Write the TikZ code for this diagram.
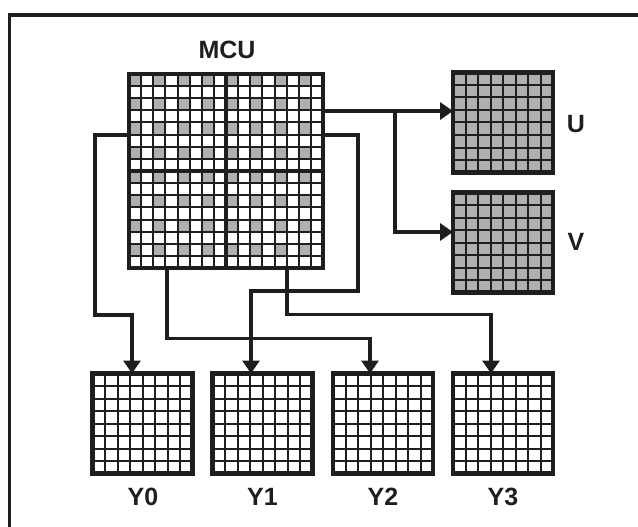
\documentclass[tikz,border=0pt]{standalone}
\usepackage{fontspec}
\setmainfont{Liberation Sans}
\usetikzlibrary{arrows.meta,calc}
\definecolor{ink}{RGB}{30,30,30}
\definecolor{cellgray}{RGB}{175,175,175}
\begin{document}
\begin{tikzpicture}[x=1pt,y=-1pt,
  blk/.style={rectangle,inner sep=0pt,outer sep=0pt,minimum size=100pt,fill=white},
  bigblk/.style={rectangle,inner sep=0pt,outer sep=0pt,minimum size=194pt,fill=white},
  cellline/.style={draw=ink,line width=2pt},
  divline/.style={draw=ink,line width=3.5pt},
  boxborder/.style={draw=ink,line width=4.5pt},
  conn/.style={draw=ink,line width=3.3pt,-{Triangle[width=17pt,length=13pt]}},
  lbl/.style={font=\bfseries\fontsize{25}{27}\selectfont,text=ink,inner sep=0pt}
]
\useasboundingbox (0,0) rectangle (638,527);
% frame (only top and left edges visible)
\draw[ink,line width=3.3pt] (9.5,527) -- (9.5,15) -- (638,15);

% blocks
\node[bigblk] (mcu) at (226,171) {};
\node[blk,fill=cellgray] (u) at (503,122.5) {};
\node[blk,fill=cellgray] (v) at (503,242.5) {};
\node[blk] (y0) at (142.5,423.5) {};
\node[blk] (y1) at (262.5,423.5) {};
\node[blk] (y2) at (383,423.5) {};
\node[blk] (y3) at (503,423.5) {};

% MCU gray samples
\foreach \r in {0,2,...,14}{
  \foreach \c in {0,2,...,14}{
    \fill[cellgray] ($(mcu.north west)+(\c*12.125,\r*12.125)$) rectangle +(12.125,12.125);
  }
}
% MCU grid
\foreach \i in {1,...,15}{
  \draw[cellline] ($(mcu.north west)+(\i*12.125,0)$) -- ($(mcu.south west)+(\i*12.125,0)$);
  \draw[cellline] ($(mcu.north west)+(0,\i*12.125)$) -- ($(mcu.north east)+(0,\i*12.125)$);
}
\draw[divline] (mcu.north) -- (mcu.south);
\draw[divline] (mcu.west) -- (mcu.east);
\draw[boxborder] (mcu.north west) rectangle (mcu.south east);

% 8x8 blocks grid
\foreach \n in {u,v,y0,y1,y2,y3}{
  \foreach \i in {1,...,7}{
    \draw[cellline] ($(\n.north west)+(\i*12.5,0)$) -- ($(\n.south west)+(\i*12.5,0)$);
    \draw[cellline] ($(\n.north west)+(0,\i*12.5)$) -- ($(\n.north east)+(0,\i*12.5)$);
  }
  \draw[boxborder] (\n.north west) rectangle (\n.south east);
}

% labels
\node[lbl] (lmcu) at (227,50) {MCU};
\node[lbl] (lu) at (576,124) {U};
\node[lbl] (lv) at (576,242) {V};
\node[lbl] (ly0) at (143,497) {Y0};
\node[lbl] (ly1) at (262.5,497) {Y1};
\node[lbl] (ly2) at (383,497) {Y2};
\node[lbl] (ly3) at (503,497) {Y3};

% connectors
\coordinate (uvstart) at ($(mcu.north east)+(0,37)$);
\coordinate (branch) at ($(uvstart)+(72,0)$);
\draw[conn] (uvstart) -- (uvstart -| u.west);
\draw[conn] (branch) |- ($(v.west)+(0,-10.5)$);

\draw[conn] ($(mcu.north west)+(0,61)$) -| (95,315) -| ($(y0.north)+(-10.5,0)$);
\draw[conn] ($(mcu.north east)+(0,61)$) -| ($(mcu.south east)+(35,23)$) -| ($(y1.north)+(-11.5,0)$);
\draw[conn] ($(mcu.south west)+(38,0)$) |- ($(y2.north)+(-13,-35)$) -- ($(y2.north)+(-13,0)$);
\draw[conn] ($(mcu.south east)+(-36,0)$) |- ($(y3.north)+(-12,-59)$) -- ($(y3.north)+(-12,0)$);
\end{tikzpicture}
\end{document}
